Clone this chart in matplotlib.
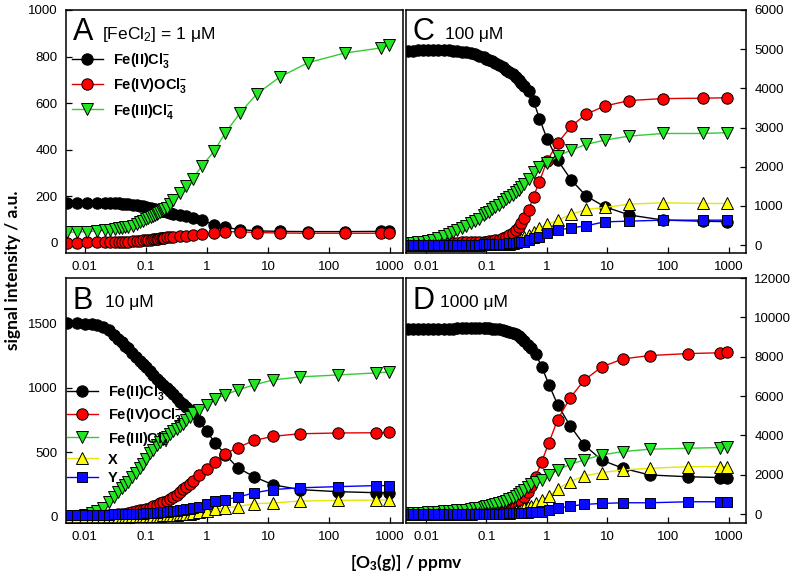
import matplotlib
matplotlib.use("Agg")
import matplotlib.pyplot as plt
from matplotlib.ticker import FixedLocator, NullLocator

plt.rcParams["font.family"] = "Liberation Sans"
plt.rcParams["mathtext.fontset"] = "custom"
plt.rcParams["mathtext.rm"] = "Liberation Sans"
plt.rcParams["mathtext.it"] = "Liberation Sans:italic"
plt.rcParams["mathtext.bf"] = "Liberation Sans:bold"

# ---- panel A : [FeCl2] = 1 uM ----
xA = [0.005, 0.0075, 0.011, 0.016, 0.021, 0.026, 0.031, 0.036, 0.041, 0.046,
      0.051, 0.061, 0.071, 0.081, 0.091, 0.10, 0.11, 0.12, 0.13, 0.14,
      0.15, 0.16, 0.17, 0.18, 0.19, 0.20, 0.22, 0.25, 0.28, 0.36,
      0.45, 0.58, 0.83, 1.3, 2.0, 3.5, 6.6, 15.7, 45, 180,
      720, 950]
a_fe2 = [172, 172, 171, 171, 170, 170, 169, 168, 167, 166,
         165, 162, 160, 157, 155, 152, 150, 148, 146, 144,
         142, 140, 138, 137, 135, 134, 131, 127, 124, 118,
         112, 105, 95, 77, 65, 56, 50, 48, 47, 47,
         48, 50]
a_fe4 = [0, 0, 1, 1, 2, 2, 2, 3, 3, 4,
         4, 5, 6, 8, 9, 11, 12, 13, 14, 15,
         16, 17, 18, 19, 20, 21, 22, 23, 24, 26,
         28, 31, 35, 42, 47, 46, 43, 41, 40, 40,
         40, 40]
a_fe3 = [44, 45, 47, 50, 53, 56, 58, 61, 63, 65,
         68, 73, 80, 87, 94, 100, 106, 111, 115, 119,
         123, 127, 131, 135, 139, 143, 150, 165, 182, 215,
         245, 275, 330, 392, 472, 558, 640, 712, 773, 815,
         837, 850]

# ---- panel B : 10 uM ----
xB = [0.005, 0.0075, 0.01, 0.013, 0.016, 0.02, 0.025, 0.03, 0.035, 0.04,
      0.045, 0.05, 0.06, 0.07, 0.08, 0.09, 0.1, 0.115, 0.13, 0.15,
      0.17, 0.19, 0.22, 0.25, 0.28, 0.32, 0.36, 0.40, 0.45, 0.52,
      0.59, 0.74, 1.0, 1.35, 2.0, 3.2, 5.9, 12, 33, 140,
      590, 950]
b_fe2 = [1500, 1498, 1495, 1490, 1483, 1470, 1445, 1410, 1380, 1350,
         1325, 1305, 1265, 1235, 1205, 1180, 1160, 1125, 1095, 1065,
         1040, 1020, 1000, 975, 950, 920, 890, 870, 850, 830,
         810, 740, 660, 572, 480, 378, 309, 247, 209, 193,
         185, 185]
b_fe4 = [0, 0, 2, 3, 5, 7, 10, 13, 16, 19,
         22, 26, 33, 40, 47, 54, 60, 69, 78, 92,
         105, 112, 120, 135, 150, 170, 190, 210, 230, 255,
         275, 320, 365, 425, 487, 535, 590, 622, 642, 648,
         650, 652]
b_fe3 = [0, 5, 15, 30, 45, 70, 110, 150, 190, 220,
         248, 270, 305, 340, 375, 410, 445, 490, 520, 555,
         580, 600, 620, 640, 660, 680, 700, 720, 745, 775,
         800, 828, 866, 912, 944, 982, 1021, 1059, 1083, 1098,
         1114, 1121]
b_x = [0, 0, 0, 0, 0, 0, 0, 0, 0, 0,
       0, 0, 1, 1, 2, 3, 4, 5, 6, 7,
       8, 9, 10, 11, 12, 14, 16, 18, 20, 22,
       25, 32, 40, 56, 69, 77, 100, 105, 120, 125,
       128, 130]
b_y = [12, 12, 13, 13, 14, 15, 15, 16, 16, 17,
       17, 18, 19, 20, 22, 23, 25, 27, 29, 31,
       33, 35, 38, 41, 43, 46, 49, 52, 55, 60,
       65, 77, 100, 118, 132, 150, 184, 209, 223, 232,
       240, 240]

# ---- panel C : 100 uM ----
xC = [0.005, 0.006, 0.0075, 0.009, 0.011, 0.013, 0.016, 0.02, 0.024, 0.028,
      0.033, 0.04, 0.046, 0.055, 0.065, 0.076, 0.09, 0.1, 0.11, 0.125,
      0.14, 0.16, 0.185, 0.21, 0.24, 0.27, 0.31, 0.34, 0.37, 0.42,
      0.5, 0.6, 0.75, 1.0, 1.5, 2.5, 4.4, 9.0, 23, 83,
      380, 930]
c_fe2 = [4950, 4960, 4970, 4975, 4980, 4980, 4980, 4975, 4970, 4960,
         4950, 4935, 4920, 4895, 4865, 4830, 4790, 4760, 4730, 4690,
         4650, 4600, 4540, 4480, 4420, 4360, 4280, 4220, 4150, 4060,
         3930, 3680, 3230, 2720, 2170, 1670, 1260, 980, 770, 640,
         610, 600]
c_fe4 = [50, 50, 50, 55, 55, 55, 60, 60, 60, 65,
         65, 70, 70, 75, 75, 80, 85, 90, 95, 110,
         120, 140, 170, 210, 260, 320, 390, 470, 560, 700,
         900, 1240, 1620, 2150, 2600, 3030, 3340, 3550, 3690, 3740,
         3750, 3760]
c_fe3 = [50, 55, 70, 85, 110, 140, 190, 240, 290, 340,
         390, 450, 500, 560, 620, 680, 760, 810, 850, 910,
         975, 1030, 1100, 1170, 1235, 1290, 1360, 1420, 1485, 1570,
         1700, 1870, 1990, 2085, 2270, 2425, 2570, 2680, 2783, 2850,
         2850, 2870]
c_x = [10, 10, 10, 10, 10, 10, 10, 12, 12, 12,
       12, 14, 14, 15, 15, 16, 17, 18, 19, 20,
       22, 25, 30, 35, 40, 60, 90, 120, 150, 200,
       255, 340, 426, 528, 638, 783, 911, 962, 1047, 1080,
       1064, 1064]
c_y = [0, 0, 0, 0, 0, 2, 2, 3, 4, 5,
       6, 8, 9, 11, 13, 15, 17, 19, 21, 24,
       27, 31, 36, 41, 47, 54, 62, 68, 75, 90,
       120, 170, 213, 298, 383, 442, 493, 595, 613, 638,
       638, 638]

# ---- panel D : 1000 uM ----
xD = [0.005, 0.006, 0.0075, 0.009, 0.011, 0.013, 0.016, 0.02, 0.024, 0.028,
      0.033, 0.04, 0.046, 0.055, 0.065, 0.076, 0.09, 0.1, 0.11, 0.125,
      0.14, 0.16, 0.185, 0.21, 0.24, 0.27, 0.31, 0.34, 0.37, 0.42,
      0.48, 0.55, 0.65, 0.82, 1.08, 1.5, 2.4, 4.1, 8, 18,
      50, 217, 720, 930]
d_fe2 = [9390, 9400, 9400, 9410, 9410, 9420, 9420, 9420, 9430, 9430,
         9440, 9440, 9440, 9450, 9450, 9450, 9450, 9450, 9440, 9430,
         9420, 9400, 9370, 9330, 9280, 9220, 9130, 9050, 8950, 8800,
         8600, 8450, 8160, 7480, 6580, 5560, 4500, 3520, 2750, 2330,
         1990, 1900, 1860, 1860]
d_fe4 = [50, 50, 50, 50, 55, 55, 55, 60, 60, 60,
         60, 65, 65, 70, 70, 75, 80, 80, 90, 100,
         110, 130, 160, 200, 250, 320, 420, 520, 650, 850,
         1150, 1450, 1900, 2670, 3640, 4800, 5900, 6800, 7480, 7890,
         8060, 8160, 8200, 8230]
d_fe3 = [40, 50, 60, 70, 85, 100, 120, 140, 160, 180,
         195, 210, 230, 260, 290, 330, 370, 400, 430, 470,
         510, 560, 620, 690, 760, 830, 920, 1000, 1100, 1230,
         1380, 1540, 1650, 1735, 1990, 2245, 2534, 2755, 3010, 3180,
         3300, 3350, 3383, 3434]
d_x = [20, 20, 20, 20, 20, 20, 20, 25, 25, 25,
       25, 30, 30, 30, 35, 35, 40, 40, 45, 50,
       55, 60, 65, 70, 80, 100, 140, 180, 220, 290,
       360, 420, 544, 714, 918, 1276, 1650, 1939, 2109, 2245,
       2330, 2415, 2415, 2415]
d_y = [0, 0, 0, 0, 0, 0, 0, 2, 3, 4,
       5, 6, 7, 8, 9, 10, 12, 13, 14, 16,
       18, 21, 25, 29, 33, 38, 45, 50, 56, 65,
       75, 88, 100, 119, 204, 289, 408, 493, 544, 578,
       578, 629, 629, 629]

x_ticks = [0.01, 0.1, 1, 10, 100, 1000]
x_tick_labels = ["0.01", "0.1", "1", "10", "100", "1000"]

labels = [r"Fe(II)Cl$_\mathbf{3}^\mathbf{-}$",
          r"Fe(IV)OCl$_\mathbf{3}^\mathbf{-}$",
          r"Fe(III)Cl$_\mathbf{4}^\mathbf{-}$",
          "X", "Y"]
# (marker face, line colour, marker)
styles = [("#000000", "#000000", "o"),
          ("#ff0000", "#e00000", "o"),
          ("#22e622", "#33cc33", "v"),
          ("#ffff00", "#e6e600", "^"),
          ("#0a0aff", "#0000ff", "s")]

W, H = 796, 582
fig = plt.figure(figsize=(W / 100, H / 100), dpi=100)


def add_panel(left, right, top, bottom):
    return fig.add_axes([left / W, 1 - bottom / H, (right - left) / W, (bottom - top) / H])


def draw(ax, x, series, n_legend=0):
    for i, y in enumerate(series):
        face, line, marker = styles[i]
        ms = 8.2 if marker == "o" else 9.0
        if marker == "s":
            ms = 7.6
        ax.plot(x, y, color=line, lw=1.0, marker=marker, ms=ms, mfc=face,
                mec="black", mew=0.7, label=labels[i] if i < n_legend else None)


def style(ax, xlim, ylim, yticks, right=False):
    ax.set_xscale("log")
    ax.set_xlim(*xlim)
    ax.set_ylim(*ylim)
    ax.xaxis.set_major_locator(FixedLocator(x_ticks))
    ax.set_xticklabels(x_tick_labels)
    ax.xaxis.set_minor_locator(NullLocator())
    ax.set_yticks(yticks)
    if right:
        ax.yaxis.tick_right()
    ax.tick_params(direction="in", length=4, width=0.9, labelsize=9.5, pad=6)
    for s in ax.spines.values():
        s.set_linewidth(1.1)


axA = add_panel(66, 403, 10, 253)
axC = add_panel(406, 746, 10, 253)
axB = add_panel(66, 403, 278, 523)
axD = add_panel(406, 746, 278, 523)

draw(axA, xA, [a_fe2, a_fe4, a_fe3], n_legend=3)
draw(axB, xB, [b_fe2, b_fe4, b_fe3, b_x, b_y], n_legend=5)
draw(axC, xC, [c_fe2, c_fe4, c_fe3, c_x, c_y])
draw(axD, xD, [d_fe2, d_fe4, d_fe3, d_x, d_y])

style(axA, (0.0049, 1630), (-45, 1000), [0, 200, 400, 600, 800, 1000])
style(axB, (0.0049, 1630), (-50, 1850), [0, 500, 1000, 1500])
style(axC, (0.00468, 1946), (-200, 6000), [0, 1000, 2000, 3000, 4000, 5000, 6000], right=True)
style(axD, (0.00468, 1946), (-450, 12000), [0, 2000, 4000, 6000, 8000, 10000, 12000], right=True)

legend_font = {"family": "Liberation Sans", "weight": "bold", "size": 10.5}
axA.legend(loc="upper left", bbox_to_anchor=(0.018, 0.83), frameon=False, prop=legend_font,
           handlelength=2.1, handletextpad=0.7, labelspacing=0.42, borderpad=0, borderaxespad=0)
axB.legend(loc="upper left", bbox_to_anchor=(0.003, 0.57), frameon=False, prop=legend_font,
           handlelength=2.1, handletextpad=0.7, labelspacing=0.28, borderpad=0, borderaxespad=0)

panel_text = [(axA, "A", r"[FeCl$_2$] = 1 μM", 0.107),
              (axB, "B", "10 μM", 0.116),
              (axC, "C", "100 μM", 0.115),
              (axD, "D", "1000 μM", 0.100)]
for ax, letter, sub, sub_x in panel_text:
    ax.text(0.02, 0.875, letter, transform=ax.transAxes, fontsize=22, va="baseline", ha="left")
    ax.text(sub_x, 0.88, sub, transform=ax.transAxes, fontsize=12.5, va="baseline", ha="left")

fig.text(0.016, 0.536, "signal intensity / a.u.", rotation=90, ha="center", va="center",
         fontsize=12.5, fontweight="bold", family="Lato")
fig.text(0.511, 0.034, r"[O$_\mathbf{3}$(g)] / ppmv", ha="center", va="center",
         fontsize=12.5, fontweight="bold", family="Lato")

fig.savefig("out.png", dpi=100)
